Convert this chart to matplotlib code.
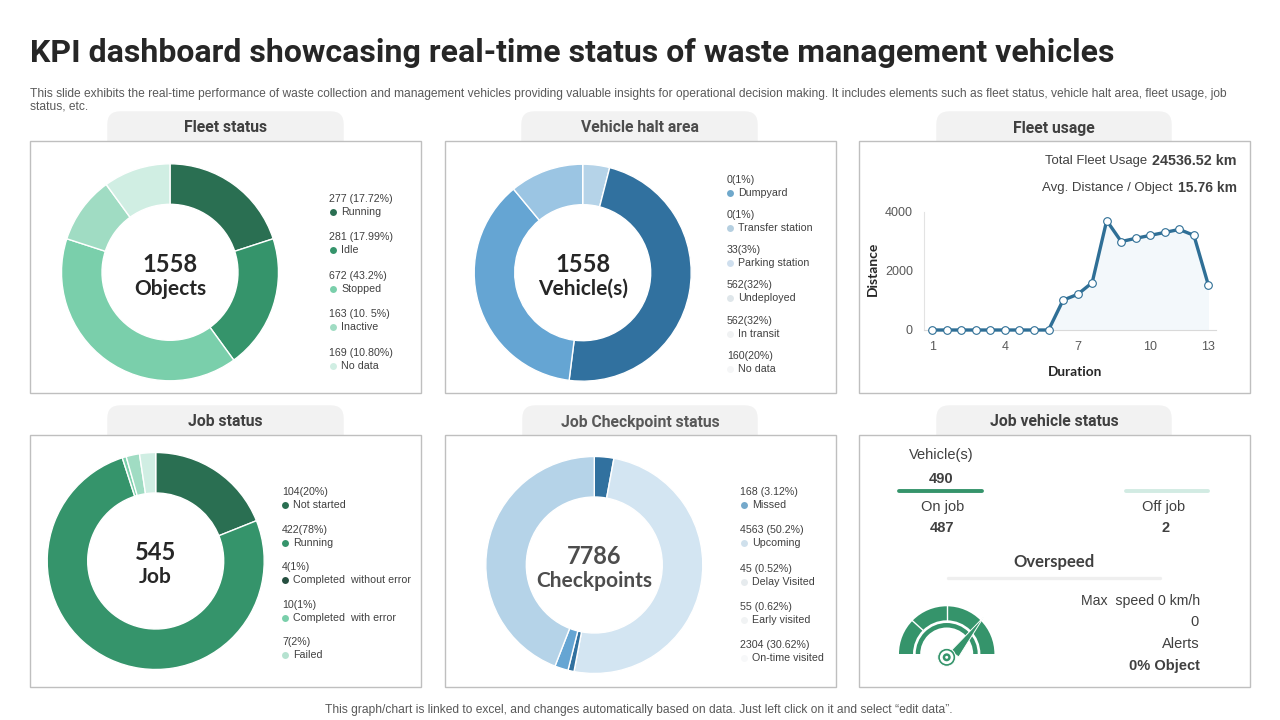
import matplotlib
matplotlib.use('Agg')
import matplotlib.pyplot as plt
from matplotlib.patches import FancyBboxPatch, Rectangle, Wedge, Circle, Polygon

W, H = 1280, 720

# Shares of each ring
fleet_shares = [20, 20, 40, 10, 10]
fleet_colors = ['#2a6f52', '#35946b', '#7acfab', '#a0dcc3', '#d0eee3']
fleet_values = ['277 (17.72%)', '281 (17.99%)', '672 (43.2%)', '163 (10. 5%)', '169 (10.80%)']
fleet_names = ['Running', 'Idle', 'Stopped', 'Inactive', 'No data']
fleet_dots = ['#2a6f52', '#35946b', '#7acfab', '#a0dcc3', '#d0eee3']

halt_shares = [4, 48, 37, 11]
halt_colors = ['#b5d3e8', '#31719f', '#65a5d3', '#9bc5e3']
halt_values = ['0(1%)', '0(1%)', '33(3%)', '562(32%)', '562(32%)', '160(20%)']
halt_names = ['Dumpyard', 'Transfer station', 'Parking station', 'Undeployed', 'In transit', 'No data']
halt_dots = ['#6fa8cb', '#b5cfe0', '#cfdfee', '#dfe6ea', '#f0f2f3', '#f5f6f7']

job_shares = [19, 76.3, 0.6, 2.0, 2.4]
job_colors = ['#2a6f52', '#35946b', '#7acfab', '#a0dcc3', '#d0eee3']
job_values = ['104(20%)', '422(78%)', '4(1%)', '10(1%)', '7(2%)']
job_names = ['Not started', 'Running', 'Completed  without error', 'Completed  with error', 'Failed']
job_dots = ['#2a6f52', '#35946b', '#264f40', '#7acfab', '#b5e2d0']

check_shares = [2.9, 50.1, 0.9, 2.0, 44.1]
check_colors = ['#31719f', '#d3e5f2', '#31719f', '#65a5d3', '#b5d3e8']
check_values = ['168 (3.12%)', '4563 (50.2%)', '45 (0.52%)', '55 (0.62%)', '2304 (30.62%)']
check_names = ['Missed', 'Upcoming', 'Delay Visited', 'Early visited', 'On-time visited']
check_dots = ['#75a9cb', '#cfe0ec', '#e6ebee', '#f1f3f4', '#f7f8f9']

# Fleet usage line
distance = [0, 0, 0, 0, 0, 0, 0, 0, 0, 1010, 1205, 1600, 3700, 2990, 3100, 3200, 3300, 3400, 3200, 1510]
duration_ticks = [0, 5, 10, 15, 19]
duration_labels = ['1', '4', '7', '10', '13']
distance_ticks = [0, 2000, 4000]

SANS = 'Liberation Sans'
HEAD = 'Roboto'
ROUND = 'Lato'
DARK = '#262626'
GREY = '#404040'

fig = plt.figure(figsize=(W / 100, H / 100), dpi=100, facecolor='white')


def px_axes(x0, y0, x1, y1):
    return fig.add_axes([x0 / W, 1 - y1 / H, (x1 - x0) / W, (y1 - y0) / H])


# Whole slide axes in pixels, for boxes and text
bg = px_axes(0, 0, W, H)
bg.set_xlim(0, W)
bg.set_ylim(H, 0)
bg.axis('off')


# matplotlib centres text a pixel high compared to the slide, hence the y + 1
def txt(x, y, s, family=SANS, size=10.5, color=GREY, ha='left', **kw):
    bg.text(x, y + 1, s, family=family, fontsize=size, color=color, ha=ha, va='center', zorder=3, **kw)


def panel(x0, x1, y_top, y0, y1, head_x0, head_x1, title, color=GREY):
    head = FancyBboxPatch((head_x0 + 12, y_top + 12), head_x1 - head_x0 - 24, 40,
                          boxstyle='round,pad=12,rounding_size=12', mutation_scale=1,
                          facecolor='#f2f2f2', edgecolor='#f2f2f2', lw=1, zorder=1)
    bg.add_patch(head)
    bg.add_patch(Rectangle((x0, y0), x1 - x0, y1 - y0, facecolor='white',
                           edgecolor='#bfbfbf', lw=1, zorder=2))
    txt((head_x0 + head_x1) / 2, y_top + 15, title, HEAD, 11.3, color, 'center', weight='bold')


def donut(cx, cy, shares, colors, big, small, big_color=DARK, r=108.5):
    ax = px_axes(cx - r, cy - r, cx + r, cy + r)
    ax.pie(shares, colors=colors, startangle=90, counterclock=False, radius=1,
           wedgeprops=dict(width=1 - 68 / r, edgecolor='white', linewidth=1))
    ax.set_xlim(-1, 1)
    ax.set_ylim(-1, 1)
    ax.text(0, 0.075, big, family=ROUND, weight='bold', fontsize=17, color=big_color,
            ha='center', va='center')
    ax.text(0, -0.15, small, family=ROUND, weight='bold', fontsize=15, color=big_color,
            ha='center', va='center')
    return ax


def legend(x, dot_x, name_x, ys, values, names, dots):
    for y, value, name, dot in zip(ys, values, names, dots):
        txt(x, y, value, size=7.7)
        txt(name_x, y + 13, name, size=7.7)
        bg.plot([dot_x], [y + 13.5], 'o', ms=5, color=dot, mec='none', zorder=3)


# Title block
txt(30, 51.5, 'KPI dashboard showcasing real-time status of waste management vehicles',
    HEAD, 23, DARK, weight='bold')
txt(30, 92.5, 'This slide exhibits the real-time performance of waste collection and management vehicles '
    'providing valuable insights for operational decision making. It includes elements such as fleet status, '
    'vehicle halt area, fleet usage, job', size=8.68, color='#595959')
txt(30, 107, 'status, etc.', size=8.68, color='#595959')
txt(639, 709, 'This graph/chart is linked to excel, and changes automatically based on data. '
    'Just left click on it and select \u201cedit data\u201d.', size=8.63, color='#595959', ha='center')

# Panels
panel(30, 421, 112, 141, 393, 108, 343, 'Fleet status')
panel(445, 836, 112, 141, 393, 522, 757, 'Vehicle halt area', '#4d4d4d')
panel(859, 1250, 112, 141, 393, 937, 1171, 'Fleet usage')
panel(30, 421, 406, 435, 687, 108, 343, 'Job status')
panel(445, 836, 406, 435, 687, 523, 757, 'Job Checkpoint status', '#595959')
panel(859, 1250, 406, 435, 687, 937, 1171, 'Job vehicle status')

# Donuts
donut(170, 272.3, fleet_shares, fleet_colors, '1558', 'Objects')
legend(329, 333, 341, [198, 236, 275, 313, 352], fleet_values, fleet_names, fleet_dots)

donut(582.7, 272.7, halt_shares, halt_colors, '1558', 'Vehicle(s)')
legend(727, 730, 738, [179, 214, 249, 284, 320, 355], halt_values, halt_names, halt_dots)

donut(155.7, 561, job_shares, job_colors, '545', 'Job')
legend(282, 285, 293, [491, 529, 566, 604, 641], job_values, job_names, job_dots)

donut(594.3, 565, check_shares, check_colors, '7786', 'Checkpoints', '#4d4d4d')
legend(740, 744, 752, [491, 529, 568, 606, 644], check_values, check_names, check_dots)

# Fleet usage chart
ax = px_axes(924, 211.7, 1215.7, 330)
x = list(range(len(distance)))
ax.fill_between(x, distance, 0, color='#f3f8fb', lw=0)
ax.plot(x, distance, color='#2f6f96', lw=2.4, marker='o', ms=5.5, mfc='white', mec='#2f6f96',
        mew=0.8, clip_on=False, zorder=4)
ax.set_xlim(-0.57, 19.5)
ax.set_ylim(0, 4000)
ax.patch.set_alpha(0)
ax.set_xticks(duration_ticks)
ax.set_xticklabels(duration_labels)
ax.set_yticks(distance_ticks)
ax.tick_params(length=0, labelsize=9, labelcolor='#595959', pad=8)
for tick in ax.get_xticklabels() + ax.get_yticklabels():
    tick.set_family(SANS)
ax.spines['top'].set_visible(False)
ax.spines['right'].set_visible(False)
ax.spines['left'].set_color('#e3e3e3')
ax.spines['bottom'].set_color('#d9d9d9')

txt(1147, 160, 'Total Fleet Usage', size=9.45, ha='right')
txt(1237, 160, '24536.52 km', size=10.3, ha='right', weight='bold')
txt(1173, 187, 'Avg. Distance / Object', size=9.5, ha='right')
txt(1237, 187, '15.76 km', size=10, ha='right', weight='bold')
txt(873, 268, 'Distance', ROUND, 10, DARK, 'center', weight='bold', rotation=90)
txt(1075, 371.5, 'Duration', ROUND, 9.8, DARK, 'center', weight='bold')

# Job vehicle status
txt(941, 454, 'Vehicle(s)', ha='center')
txt(941.5, 478, '490', ha='center', weight='bold')
bg.plot([899, 982], [491, 491], color='#35946b', lw=2.8, solid_capstyle='round', zorder=3)
bg.plot([1126, 1208], [491, 491], color='#d2ebe3', lw=2.8, solid_capstyle='round', zorder=3)
txt(943, 506, 'On job', ha='center')
txt(942, 527, '487', ha='center', weight='bold')
txt(1164, 506, 'Off job', ha='center')
txt(1165.5, 527, '2', ha='center', weight='bold')
txt(1054, 561, 'Overspeed', ROUND, 12, GREY, 'center', weight='bold')
bg.plot([948, 1160], [578, 578], color='#efefef', lw=2.4, solid_capstyle='round', zorder=3)
txt(1200, 600, 'Max  speed 0 km/h', size=10.2, ha='right')
txt(1199, 621, '0', ha='right')
txt(1200, 643, 'Alerts', ha='right')
txt(1200, 665, '0% Object', ha='right', weight='bold')

# Gauge icon, drawn in pixels around its centre
g = px_axes(890, 595, 1005, 670)
g.set_xlim(890 - 946.7, 1005 - 946.7)
g.set_ylim(654 - 670, 654 - 595)
g.axis('off')
g.set_aspect('equal')
GREEN = '#35946b'
g.add_patch(Wedge((0, 0), 47.7, 0, 180, width=14, fc=GREEN, ec='none'))
g.add_patch(Wedge((0, 0), 31, 0, 180, width=4.5, fc=GREEN, ec='none'))
for a, b in [((0, 33), (0, 48)), ((-23.5, 23.5), (-34.5, 33.5))]:
    g.plot([a[0], b[0]], [a[1], b[1]], color='white', lw=1)
g.add_patch(Polygon([(4, 3), (12, -3), (37, 37)], fc=GREEN, ec='white', lw=0.7, zorder=4))
g.add_patch(Circle((0, -3.3), 9, fc=GREEN, ec='white', lw=0.7, zorder=5))
g.add_patch(Circle((0, -3.3), 6.8, fc='white', ec='none', zorder=6))
g.add_patch(Circle((0, -3.3), 4, fc=GREEN, ec='none', zorder=7))
g.add_patch(Circle((0, -3.3), 1.5, fc='white', ec='none', zorder=8))

plt.savefig('out.png', dpi=100)
